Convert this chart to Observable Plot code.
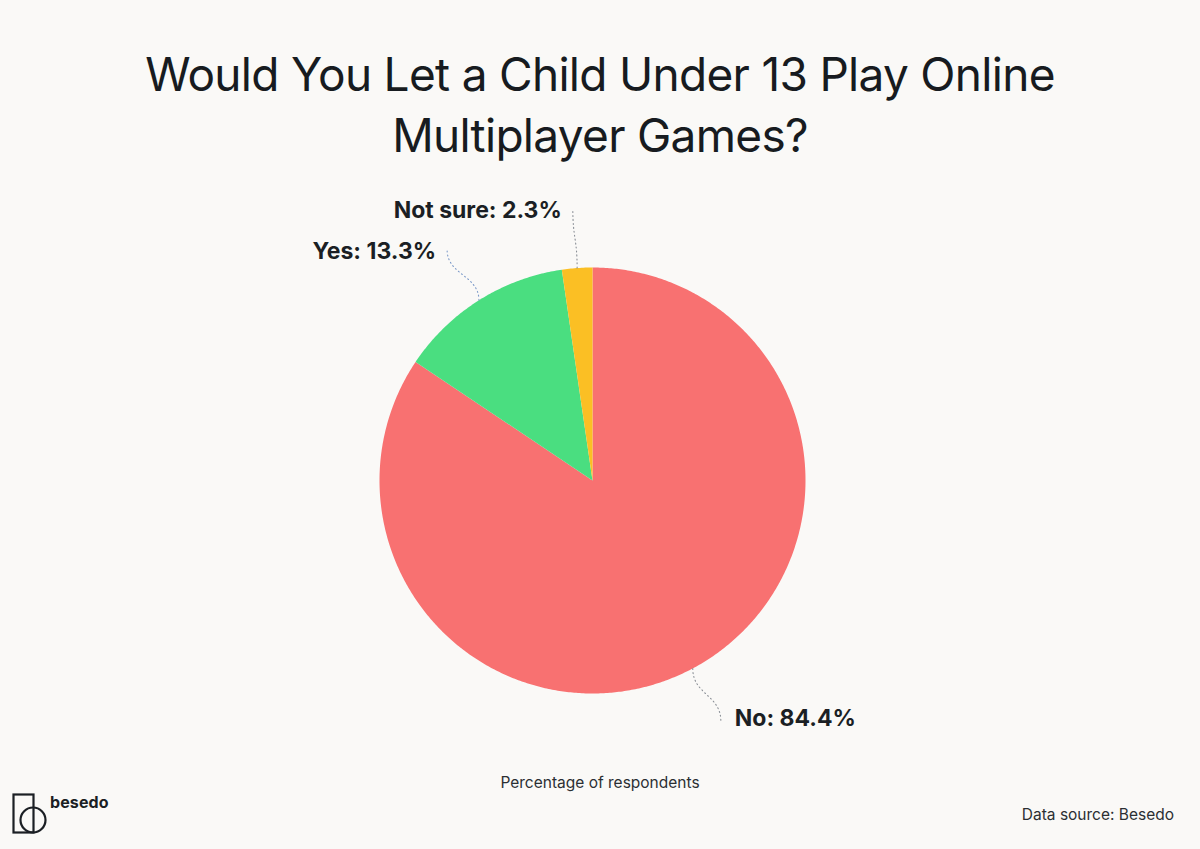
<!DOCTYPE html>
<html>
<head>
<meta charset="utf-8">
<script src="https://cdn.jsdelivr.net/npm/d3@7"></script>
<script src="https://cdn.jsdelivr.net/npm/@observablehq/plot@0.6"></script>
<style>
  html, body { margin: 0; padding: 0; background: #faf9f7; }
  #fig { position: relative; width: 1200px; height: 849px; background: #faf9f7; overflow: hidden;
         font-family: Inter, "Noto Sans", sans-serif; color: #1b1f24; }
  #title { position: absolute; left: 0; top: 44px; width: 1200px; text-align: center;
           font-size: 46px; line-height: 61px; font-weight: 400; letter-spacing: -0.7px; color: #171b20; }
  #chart { position: absolute; left: 0; top: 0; }
  #caption { position: absolute; left: 0; width: 1200px; top: 773px; text-align: center; font-size: 15.5px; color: #2b2f33; }
  #source { position: absolute; right: 26px; top: 805px; font-size: 15.5px; color: #2b2f33; }
  #logo { position: absolute; left: 10px; top: 792px; }
  #brand { position: absolute; left: 50px; top: 792px; font-size: 16px; font-weight: 700; color: #1b1f24; letter-spacing: 0.1px; }
</style>
</head>
<body>
<div id="fig">
  <div id="chart"></div>
  <div id="title">Would You Let a Child Under 13 Play Online<br>Multiplayer Games?</div>
  <svg id="logo" width="40" height="45" viewBox="0 0 40 45">
    <rect x="3.5" y="2.5" width="20" height="38" fill="none" stroke="#1b1f24" stroke-width="2.2"/>
    <circle cx="23" cy="28" r="12.5" fill="none" stroke="#1b1f24" stroke-width="2.2"/>
  </svg>
  <div id="brand">besedo</div>
  <div id="caption">Percentage of respondents</div>
  <div id="source">Data source: Besedo</div>
</div>
<script>
// ---- data ----
const categories = ["No", "Yes", "Not sure"];
const values = [84.4, 13.3, 2.3];
const colors = ["#f87171", "#4ade80", "#fbbf24"];
const leaderColors = ["#8a8f96", "#7d9bc9", "#8a8f96"];

// ---- layout ----
const W = 1200, H = 849;
const cx = 592, cy = 480, R = 213;

const data = categories.map((c, i) => ({category: c, value: values[i], color: colors[i], leader: leaderColors[i]}));
const arcs = d3.pie().sort(null).value(d => d.value).startAngle(0).endAngle(2 * Math.PI)(data);

// slice polygons in unit coordinates (radius 1), y pointing up
const slicePts = [];
arcs.forEach((a) => {
  const n = Math.max(2, Math.ceil((a.endAngle - a.startAngle) / (Math.PI / 360)));
  slicePts.push({slice: a.data.category, px: 0, py: 0});
  for (let j = 0; j <= n; j++) {
    const t = a.startAngle + (a.endAngle - a.startAngle) * j / n;
    slicePts.push({slice: a.data.category, px: Math.sin(t), py: Math.cos(t)});
  }
});

// leader lines and labels
const leaders = arcs.map(a => {
  const m = (a.startAngle + a.endAngle) / 2;
  const r2 = 1.28;
  return {
    category: a.data.category,
    label: `${a.data.category}: ${a.data.value}%`,
    color: a.data.leader,
    x1: Math.sin(m), y1: Math.cos(m),
    x2: Math.sin(m) * r2, y2: Math.cos(m) * r2,
    right: Math.sin(m) > 0
  };
});

const chart = Plot.plot({
  width: W, height: H,
  margin: 0,
  style: {background: "transparent", fontFamily: "Inter, 'Noto Sans', sans-serif"},
  x: {domain: [-cx / R, (W - cx) / R], range: [0, W], axis: null},
  y: {domain: [-(H - cy) / R, cy / R], range: [H, 0], axis: null},
  color: {domain: categories, range: colors},
  marks: [
    Plot.line(slicePts, {x: "px", y: "py", z: "slice", fill: "slice", stroke: "none", curve: "linear"}),
    Plot.link(leaders, {x1: "x1", y1: "y1", x2: "x2", y2: "y2", stroke: "color", strokeWidth: 1.1,
      strokeDasharray: "1,3", strokeLinecap: "round", curve: "bump-y"}),
    Plot.text(leaders.filter(d => d.right), {x: "x2", y: "y2", text: "label", textAnchor: "start", dx: 14, dy: -2,
      fontSize: 23, fontWeight: 700, fill: "#1b1f24"}),
    Plot.text(leaders.filter(d => !d.right), {x: "x2", y: "y2", text: "label", textAnchor: "end", dx: -11, dy: 2,
      fontSize: 23, fontWeight: 700, fill: "#1b1f24"})
  ]
});
document.getElementById("chart").appendChild(chart);
</script>
</body>
</html>
